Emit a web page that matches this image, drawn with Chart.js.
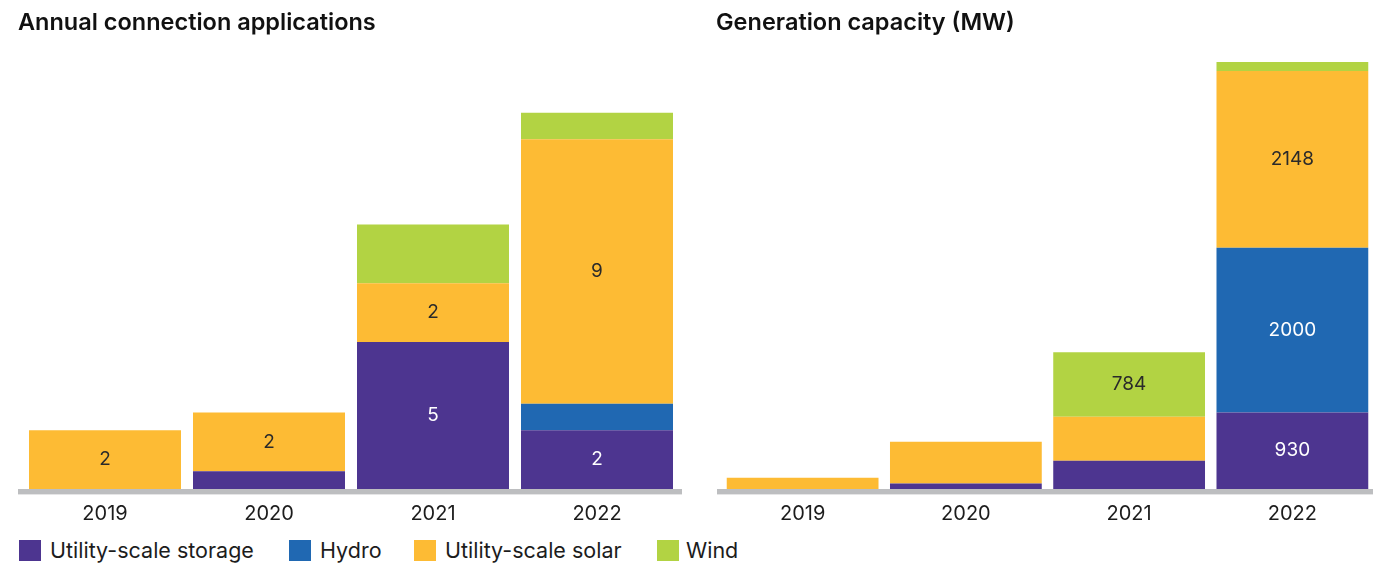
<!DOCTYPE html>
<html>
<head>
<meta charset="utf-8">
<script src="https://cdn.jsdelivr.net/npm/chart.js@4.4.1/dist/chart.umd.min.js"></script>
<style>
  html, body { margin: 0; padding: 0; background: #ffffff; overflow: hidden; width: 1373px; height: 565px; }
  #wrap { position: relative; width: 1373px; height: 565px; }
  canvas { position: absolute; top: 0; }
  #cApps { left: 0; }
  #cMw { left: 700px; }
  .lg { position: absolute; top: 539px; height: 22px; display: flex; align-items: center;
        font-family: Inter, "Noto Sans", sans-serif; font-size: 21.5px; color: #1c1c1c; white-space: nowrap; }
  .sw { position: absolute; top: 540px; width: 22px; height: 21px; }
</style>
</head>
<body>
<div id="wrap">
  <canvas id="cApps" width="700" height="530"></canvas>
  <canvas id="cMw" width="680" height="530"></canvas>
  <div id="legend"></div>
</div>
<script>
// Categories
const years = ['2019', '2020', '2021', '2022'];

// Annual connection applications, by technology
const appsStorage = [0, 0.6, 5, 2];
const appsHydro   = [0, 0, 0, 0.9];
const appsSolar   = [2, 2, 2, 9];
const appsWind    = [0, 0, 2, 0.9];

// Generation capacity (MW), by technology
const mwStorage = [0, 68, 343, 930];
const mwHydro   = [0, 0, 0, 2000];
const mwSolar   = [137, 506, 534, 2148];
const mwWind    = [0, 0, 784, 109];

// Which segments carry a value label
const appsShowStorage = [false, false, true, true];
const appsShowHydro   = [false, false, false, false];
const appsShowSolar   = [true, true, true, true];
const appsShowWind    = [false, false, false, false];
const mwShowStorage = [false, false, false, true];
const mwShowHydro   = [false, false, false, true];
const mwShowSolar   = [false, false, false, true];
const mwShowWind    = [false, false, true, false];

const seriesNames = ['Utility-scale storage', 'Hydro', 'Utility-scale solar', 'Wind'];
const seriesColors = ['#4d3590', '#2068b2', '#fdbb34', '#b2d343'];
const labelColors = ['#ffffff', '#ffffff', '#2a2a2a', '#2a2a2a'];

const FONT = 'Inter, "Noto Sans", sans-serif';

function makeDatasets(values, shows) {
  return values.map((v, i) => ({
    label: seriesNames[i],
    data: v,
    showLabel: shows[i],
    backgroundColor: seriesColors[i],
    borderWidth: 0,
    barPercentage: 1,
    stack: 's'
  }));
}

// Draws the grey baseline and the in-bar value labels
const decorate = {
  id: 'decorate',
  afterDatasetsDraw(chart, args, opts) {
    const ctx = chart.ctx;
    const area = chart.chartArea;
    const y0 = chart.scales.y.getPixelForValue(0);
    ctx.save();
    ctx.fillStyle = '#bdbec0';
    ctx.fillRect(area.left - opts.lineExtendLeft, y0, (area.right - area.left) + opts.lineExtendLeft + opts.lineExtendRight, 5.4);
    ctx.font = '400 19px ' + FONT;
    ctx.textAlign = 'center';
    ctx.textBaseline = 'middle';
    chart.data.datasets.forEach((ds, i) => {
      const meta = chart.getDatasetMeta(i);
      meta.data.forEach((el, j) => {
        if (!ds.showLabel[j] || !ds.data[j]) return;
        ctx.fillStyle = labelColors[i];
        ctx.fillText(opts.format(ds.data[j]), el.x, (el.y + el.base) / 2);
      });
    });
    ctx.restore();
  }
};

function makeChart(id, title, datasets, yMax, catPct, pad, extL, extR, fmt) {
  return new Chart(document.getElementById(id), {
    type: 'bar',
    data: { labels: years, datasets: datasets },
    options: {
      responsive: false,
      animation: false,
      devicePixelRatio: 1,
      layout: { padding: { left: pad.left, right: pad.right, top: 0, bottom: 0 } },
      datasets: { bar: { categoryPercentage: catPct } },
      plugins: {
        legend: { display: false },
        tooltip: { enabled: false },
        title: {
          display: true, text: title, align: 'start', color: '#111111',
          font: { family: FONT, size: 23.5, weight: '600' },
          padding: { top: 9, bottom: 11 }
        },
        decorate: { lineExtendLeft: extL, lineExtendRight: extR, format: fmt }
      },
      scales: {
        x: {
          stacked: true,
          grid: { display: false, drawTicks: false },
          border: { display: false },
          ticks: { color: '#1c1c1c', padding: 13, font: { family: FONT, size: 20 } },
          afterFit(s) { s.height = 41; }
        },
        y: {
          stacked: true, min: 0, max: yMax,
          grid: { display: false, drawTicks: false },
          border: { display: false },
          ticks: { display: false },
          afterFit(s) { s.width = 5; }
        }
      }
    },
    plugins: [decorate]
  });
}

makeChart('cApps', 'Annual connection applications',
  makeDatasets([appsStorage, appsHydro, appsSolar, appsWind],
               [appsShowStorage, appsShowHydro, appsShowSolar, appsShowWind]),
  15.0, 152 / 164, { left: 18, right: 21 }, 5, 3, v => String(v));

makeChart('cMw', 'Generation capacity (MW)',
  makeDatasets([mwStorage, mwHydro, mwSolar, mwWind],
               [mwShowStorage, mwShowHydro, mwShowSolar, mwShowWind]),
  5354, 152 / 163.5, { left: 16, right: 6 }, 4, 10, v => String(v));

// Shared legend
const legendPos = [[19, 50], [289, 320], [414, 445], [657, 686]];
const legend = document.getElementById('legend');
seriesNames.forEach((name, i) => {
  const sw = document.createElement('div');
  sw.className = 'sw';
  sw.style.left = legendPos[i][0] + 'px';
  sw.style.background = seriesColors[i];
  legend.appendChild(sw);
  const tx = document.createElement('div');
  tx.className = 'lg';
  tx.style.left = legendPos[i][1] + 'px';
  tx.textContent = name;
  legend.appendChild(tx);
});
</script>
</body>
</html>
